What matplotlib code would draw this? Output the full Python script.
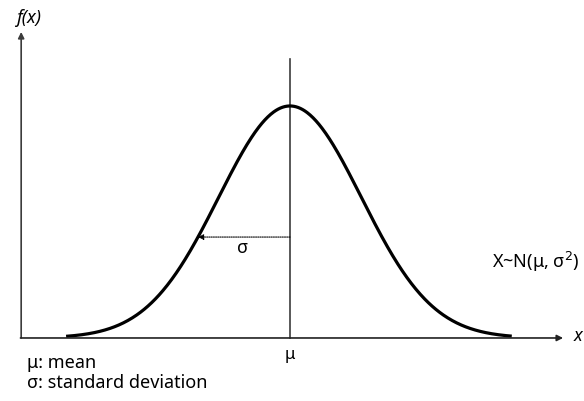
import numpy as np
import matplotlib.pyplot as plt

# normal curve parameters (in sigma units, peak scaled to 1)
mu = 0.0
sigma = 1.0
x_range = [-3.14, 3.11]
sigma_arrow_height = 0.435

# labels
y_label = 'f(x)'
x_label = 'x'
mu_label = '\u03bc'
sigma_label = '\u03c3'
dist_label = 'X~N(\u03bc, \u03c3$^2$)'
legend_lines = ['\u03bc: mean', '\u03c3: standard deviation']

plt.rcParams['font.family'] = ['Noto Sans', 'DejaVu Sans']

fig = plt.figure(figsize=(5.84, 4.02), dpi=100)
ax = fig.add_axes([0, 0, 1, 1])
ax.set_xlim(-4.067, 4.123)
ax.set_ylim(-0.2716, 1.461)
ax.axis('off')

xs = np.linspace(x_range[0], x_range[1], 600)
ys = np.exp(-0.5 * ((xs - mu) / sigma) ** 2)

axis_col = '#3c3c3c'
x0 = -3.77

# axes with arrows
ax.annotate('', xy=(x0, 1.319), xytext=(x0, 0),
            arrowprops=dict(arrowstyle='-|>', color=axis_col, lw=1.2,
                            mutation_scale=9, shrinkA=0, shrinkB=0))
ax.annotate('', xy=(3.83, 0), xytext=(x0 - 0.01, 0),
            arrowprops=dict(arrowstyle='-|>', color='#222222', lw=1.2,
                            mutation_scale=9, shrinkA=0, shrinkB=0))

# mean line
ax.plot([mu, mu], [0, 1.203], color=axis_col, lw=1.2)

# curve
ax.plot(xs, ys, color='black', lw=2.3, solid_capstyle='butt')

# sigma arrow to the curve
x_tip = mu - sigma * np.sqrt(-2 * np.log(sigma_arrow_height))
ax.annotate('', xy=(x_tip, sigma_arrow_height), xytext=(mu, sigma_arrow_height),
            arrowprops=dict(arrowstyle='-|>', color='black', lw=0.8,
                            linestyle=(0, (1, 1)), mutation_scale=8,
                            shrinkA=0, shrinkB=0))
ax.text(-0.66, 0.392, sigma_label, fontsize=13, ha='center', va='center')

# texts
ax.text(-3.67, 1.385, y_label, fontsize=13, style='italic', ha='center', va='center')
ax.text(4.04, 0.015, x_label, fontsize=13, style='italic', ha='center', va='center')
ax.text(mu, -0.07, mu_label, fontsize=12, ha='center', va='center')
ax.text(2.83, 0.33, dist_label, fontsize=13, ha='left', va='center')
ax.text(-3.69, -0.102, legend_lines[0], fontsize=13, ha='left', va='center')
ax.text(-3.69, -0.19, legend_lines[1], fontsize=13, ha='left', va='center')

fig.savefig('out.png', dpi=100)
